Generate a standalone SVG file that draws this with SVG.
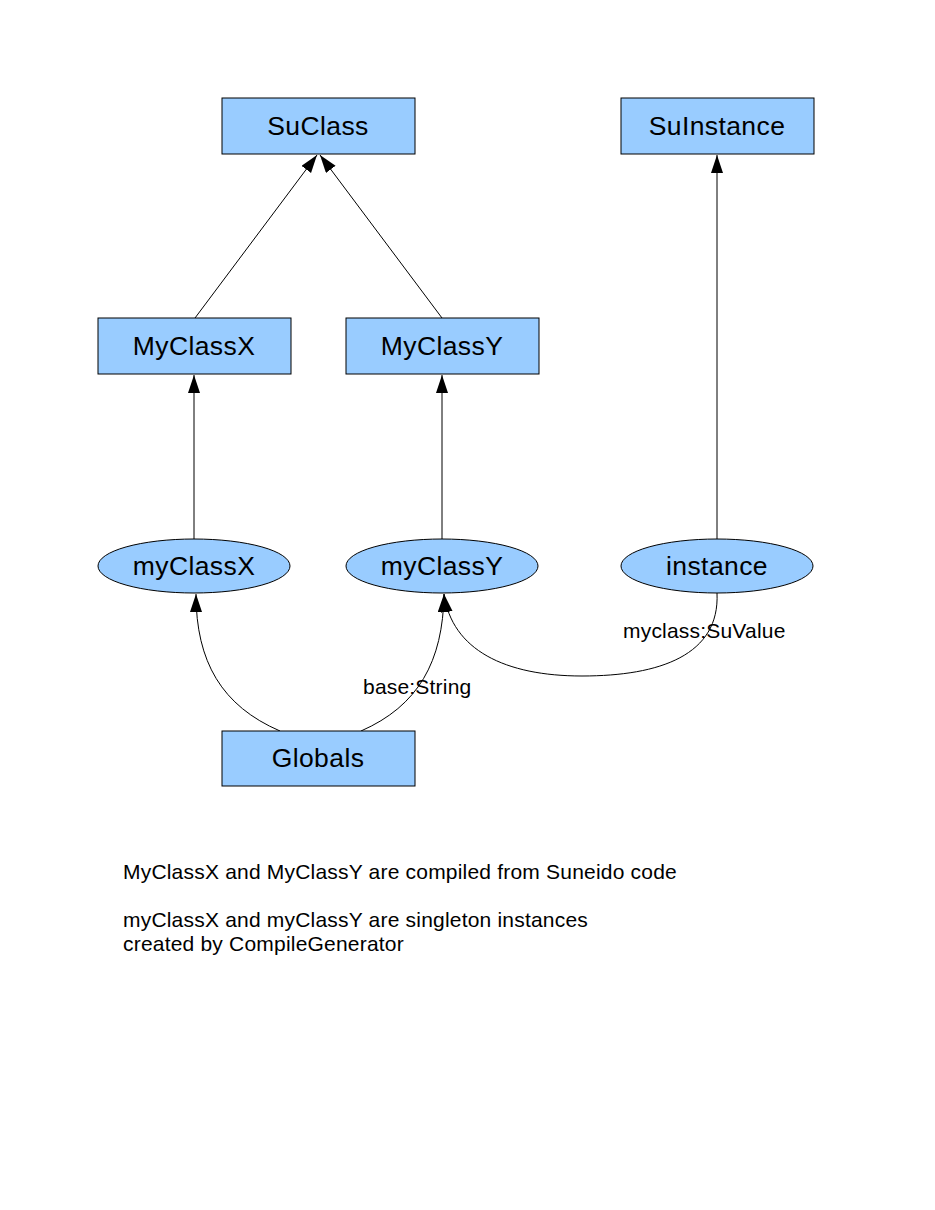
<svg xmlns="http://www.w3.org/2000/svg" width="935" height="1210" viewBox="0 0 935 1210">
<style>
.box{fill:#99ccff;stroke:#000;stroke-width:1}
.lbl{font-family:"Liberation Sans",Arial,sans-serif;font-size:26.5px;letter-spacing:0.4px;fill:#000;text-anchor:middle}
.el{font-family:"Liberation Sans",Arial,sans-serif;font-size:21px;letter-spacing:0.2px;fill:#000}
.note{font-family:"Liberation Sans",Arial,sans-serif;font-size:21px;letter-spacing:0.2px;fill:#000}
.edge{fill:none;stroke:#000;stroke-width:1;marker-end:url(#arr)}
</style>
<defs>
<marker id="arr" markerUnits="userSpaceOnUse" markerWidth="19" markerHeight="13" refX="18" refY="6" orient="auto">
<path d="M0,0 L18,6 L0,12 z" fill="#000"/>
</marker>
</defs>
<rect width="935" height="1210" fill="#fff"/>
<g id="connectors">
<path class="edge" d="M195,318 L317,155"/>
<path class="edge" d="M442,318 L320,155"/>
<path class="edge" d="M194,539 L194,375"/>
<path class="edge" d="M442,539 L442,375"/>
<path class="edge" d="M717,539 L717,155"/>
<path class="edge" d="M280,731 C222,706 196,662 196,594"/>
<path class="edge" d="M361,731 C418,706 443,662 444,594"/>
<path class="edge" d="M717,593 C720,655 660,676 582,676 C505,676 452,650 444,594"/>
</g>
<g id="SuClass"><rect class="box" x="222" y="98" width="193" height="56"/><text class="lbl" x="318" y="135">SuClass</text></g>
<g id="SuInstance"><rect class="box" x="621" y="98" width="193" height="56"/><text class="lbl" x="717" y="135">SuInstance</text></g>
<g id="MyClassX"><rect class="box" x="98" y="318" width="193" height="56"/><text class="lbl" x="194" y="355">MyClassX</text></g>
<g id="MyClassY"><rect class="box" x="346" y="318" width="193" height="56"/><text class="lbl" x="442" y="355">MyClassY</text></g>
<g id="myClassX"><ellipse class="box" cx="194" cy="566" rx="96" ry="27"/><text class="lbl" x="194" y="575">myClassX</text></g>
<g id="myClassY"><ellipse class="box" cx="442" cy="566" rx="96" ry="27"/><text class="lbl" x="442" y="575">myClassY</text></g>
<g id="instance"><ellipse class="box" cx="717" cy="566" rx="96" ry="27"/><text class="lbl" x="717" y="575">instance</text></g>
<g id="Globals"><rect class="box" x="222" y="731" width="193" height="55"/><text class="lbl" x="318" y="767">Globals</text></g>
<g id="labels">
<text class="el" x="363" y="694">base:String</text>
<text class="el" x="623" y="638">myclass:SuValue</text>
</g>
<g id="notes">
<text class="note" x="123" y="879">MyClassX and MyClassY are compiled from Suneido code</text>
<text class="note" x="123" y="927">myClassX and myClassY are singleton instances</text>
<text class="note" x="123" y="951">created by CompileGenerator</text>
</g>
</svg>
